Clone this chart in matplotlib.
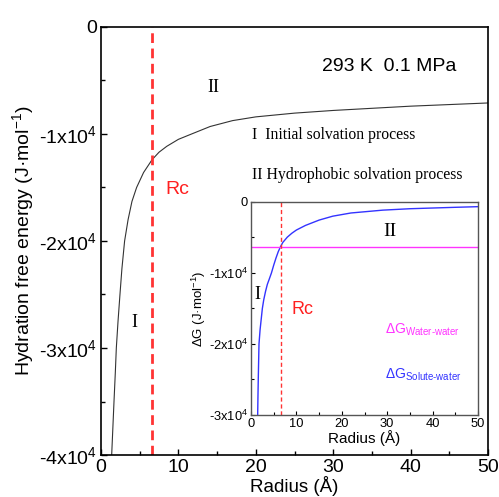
import matplotlib
matplotlib.use("Agg")
import matplotlib.pyplot as plt
from matplotlib.ticker import MultipleLocator, FixedLocator, FixedFormatter

# ---- data ----
radius_main = [1.38, 1.5, 1.68, 1.85, 1.98, 2.2, 2.45, 2.7, 3.05, 3.5, 4.0,
               4.6, 5.5, 6.6, 7.5, 8.5, 10, 11.7, 14.1, 17, 20, 25, 30, 35,
               40, 45, 50]
dG_main = [-40000, -38000, -35000, -32300, -30000, -27500, -25000, -22600,
           -20000, -18000, -16300, -15000, -13600, -12400, -11700, -11150,
           -10500, -10000, -9300, -8750, -8400, -8050, -7800, -7600, -7400,
           -7250, -7100]

radius_inset = [1.47, 1.53, 1.6, 1.68, 1.76, 2.0, 2.2, 2.5, 2.8, 3.2, 3.6,
                4.0, 4.5, 5.0, 5.5, 6.0, 6.5, 7.0, 8.0, 9.0, 10, 12, 15, 18,
                22, 29, 35, 40, 45, 50]
dG_solute_water = [-30000, -27500, -25000, -22500, -20000, -18000, -16800,
                   -15000, -13800, -12600, -11600, -10900, -10000, -8900,
                   -7900, -7000, -6300, -5700, -4950, -4400, -3950, -3300,
                   -2550, -2000, -1550, -1150, -950, -850, -750, -660]
dG_water_water = -6300
rc = 6.6
rc_inset = 6.5

main_yticks = [0, -10000, -20000, -30000, -40000]
main_ylabels = ["0", r"-1x10$^4$", r"-2x10$^4$", r"-3x10$^4$", r"-4x10$^4$"]
inset_yticks = [0, -10000, -20000, -30000]
inset_ylabels = ["0", r"-1x10$^4$", r"-2x10$^4$", r"-3x10$^4$"]

plt.rcParams['font.family'] = ['Liberation Sans', 'DejaVu Sans']
plt.rcParams['mathtext.fontset'] = 'custom'
plt.rcParams['mathtext.rm'] = 'Liberation Sans'
plt.rcParams['mathtext.it'] = 'Liberation Sans:italic'

fig = plt.figure(figsize=(4.99, 4.97), dpi=100)
ax = fig.add_axes([0.2024, 0.0845, 0.7756, 0.8612])
ax.plot(radius_main, dG_main, color='#333333', lw=0.8)
ax.axvline(rc, color='#ff3333', lw=2.0, ls=(0, (3.5, 2.0)))
ax.set_xlim(0, 50)
ax.set_ylim(-40000, 0)
ax.xaxis.set_major_locator(MultipleLocator(10))
ax.xaxis.set_minor_locator(MultipleLocator(5))
ax.yaxis.set_major_locator(FixedLocator(main_yticks))
ax.yaxis.set_major_formatter(FixedFormatter(main_ylabels))
ax.yaxis.set_minor_locator(MultipleLocator(5000))
ax.tick_params(which='both', direction='in', top=False, right=False,
               labelsize=14)
ax.tick_params(which='major', length=4, width=1)
ax.tick_params(which='minor', length=3, width=1)
ax.tick_params(axis='x', pad=3)
ax.tick_params(axis='y', pad=3)
for s in ax.spines.values():
    s.set_linewidth(1.2)
ax.set_xlabel("Radius (Å)", fontsize=13.5, labelpad=0)
ax.set_ylabel("Hydration free energy (J·mol$^{-1}$)", fontsize=14, labelpad=2)

ax.text(28.5, -3650, "293 K  0.1 MPa", fontsize=14, ha='left', va='center')
ax.text(14.5, -5700, "II", fontsize=13, family='Liberation Serif', ha='center', va='center')
ax.text(19.5, -10100, "I  Initial solvation process", fontsize=11.3,
        family='Liberation Serif', ha='left', va='center')
ax.text(19.5, -13850, "II Hydrophobic solvation process", fontsize=11.3,
        family='Liberation Serif', ha='left', va='center')
ax.text(8.3, -15200, "Rc", color='#ff2020', fontsize=14, ha='left', va='center')
ax.text(4.3, -27600, "I", fontsize=13, family='Liberation Serif', ha='center', va='center')

ins = fig.add_axes([0.503, 0.165, 0.455, 0.4286])
ins.plot(radius_inset, dG_solute_water, color='#3333ff', lw=1.0)
ins.axhline(dG_water_water, color='#ff33ff', lw=1.0)
ins.axvline(rc_inset, color='#ff3333', lw=1.0, ls=(0, (3, 2)))
ins.set_xlim(0, 50)
ins.set_ylim(-30000, 0)
ins.xaxis.set_major_locator(MultipleLocator(10))
ins.xaxis.set_minor_locator(MultipleLocator(5))
ins.yaxis.set_major_locator(FixedLocator(inset_yticks))
ins.yaxis.set_major_formatter(FixedFormatter(inset_ylabels))
ins.yaxis.set_minor_locator(MultipleLocator(5000))
ins.tick_params(which='both', direction='in', top=False, right=False,
                labelsize=9.3, pad=2)
ins.tick_params(which='major', length=3, width=0.8)
ins.tick_params(which='minor', length=2, width=0.8)
for s in ins.spines.values():
    s.set_linewidth(1.0)
    s.set_color('#555555')
ins.set_xlabel("Radius (Å)", fontsize=11, labelpad=0)
ins.set_ylabel("ΔG (J·mol$^{-1}$)", fontsize=9.5, labelpad=1)

ins.text(30.5, -4200, "II", fontsize=14, family='Liberation Serif', ha='center', va='center')
ins.text(1.4, -13000, "I", fontsize=13, family='Liberation Serif', ha='center', va='center')
ins.text(9.0, -15100, "Rc", color='#ff2020', fontsize=13, ha='left', va='center')
ins.text(29.5, -18000, "ΔG$_{\\mathrm{Water\\text{-}water}}$", color='#ff33ff',
         fontsize=10, ha='left', va='center')
ins.text(29.5, -24300, "ΔG$_{\\mathrm{Solute\\text{-}water}}$", color='#3333ff',
         fontsize=10, ha='left', va='center')

fig.savefig("out.png", dpi=100)
